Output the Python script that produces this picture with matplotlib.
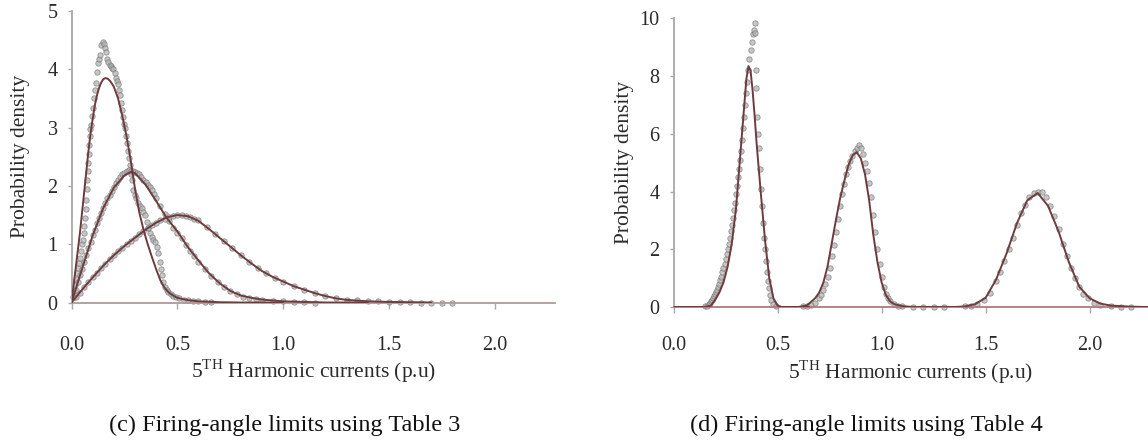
import matplotlib
matplotlib.use("Agg")
import matplotlib.pyplot as plt

plt.rcParams['font.family'] = ['Liberation Serif', 'DejaVu Serif']
plt.rcParams['mathtext.fontset'] = 'custom'
plt.rcParams['mathtext.rm'] = 'Liberation Serif'

# ---- panel (c): fitted curves ----
c1_x = [0, 0.01, 0.02, 0.03, 0.04, 0.05, 0.06, 0.07, 0.08, 0.09, 0.10, 0.11, 0.12, 0.13, 0.14,
        0.15, 0.16, 0.17, 0.18, 0.19, 0.20, 0.22, 0.24, 0.26, 0.28, 0.30, 0.32, 0.34, 0.36,
        0.38, 0.40, 0.42, 0.44, 0.46, 0.48, 0.50, 0.55, 0.60, 0.70, 0.80, 1.0]
c1_y = [0, 0.30, 0.60, 0.90, 1.20, 1.55, 1.90, 2.25, 2.60, 2.90, 3.15, 3.38, 3.55, 3.68, 3.77,
        3.83, 3.85, 3.84, 3.81, 3.76, 3.70, 3.50, 3.20, 2.85, 2.43, 1.95, 1.55, 1.25, 1.00,
        0.78, 0.57, 0.38, 0.25, 0.17, 0.12, 0.08, 0.04, 0.02, 0.005, 0, 0]

c2_x = [0, 0.05, 0.10, 0.15, 0.20, 0.25, 0.28, 0.30, 0.35, 0.40, 0.45, 0.50, 0.55, 0.60,
        0.65, 0.70, 0.75, 0.80, 0.85, 0.90, 1.0, 1.1, 1.2, 1.4]
c2_y = [0, 0.58, 1.15, 1.62, 1.97, 2.18, 2.24, 2.22, 2.02, 1.74, 1.45, 1.22, 0.95, 0.72,
        0.50, 0.33, 0.20, 0.12, 0.08, 0.05, 0.02, 0.01, 0, 0]

c3_x = [0, 0.05, 0.10, 0.15, 0.20, 0.25, 0.30, 0.35, 0.40, 0.45, 0.50, 0.55, 0.60, 0.65,
        0.70, 0.75, 0.80, 0.85, 0.90, 0.95, 1.00, 1.05, 1.10, 1.15, 1.20, 1.25, 1.30, 1.40,
        1.50, 1.60, 1.70]
c3_y = [0, 0.22, 0.43, 0.63, 0.81, 0.97, 1.11, 1.25, 1.37, 1.46, 1.50, 1.48, 1.40, 1.26,
        1.11, 0.96, 0.81, 0.67, 0.54, 0.44, 0.36, 0.28, 0.22, 0.16, 0.11, 0.07, 0.045, 0.02,
        0.01, 0.005, 0]

# ---- panel (c): measured points ----
d1_x = [0.005, 0.01, 0.015, 0.02, 0.025, 0.03, 0.035, 0.04, 0.045, 0.05, 0.053, 0.057, 0.06,
        0.064, 0.067, 0.069, 0.072, 0.075, 0.078, 0.080, 0.082, 0.083, 0.086, 0.088, 0.091,
        0.095, 0.10, 0.105, 0.11, 0.114, 0.122, 0.126, 0.131, 0.136, 0.141, 0.147, 0.152,
        0.158, 0.163, 0.168, 0.174, 0.18, 0.186, 0.192, 0.198, 0.205, 0.21, 0.216, 0.221,
        0.225, 0.229, 0.233, 0.237, 0.242, 0.247, 0.252, 0.256, 0.261, 0.265, 0.27, 0.275,
        0.28, 0.284, 0.292, 0.30, 0.306, 0.316, 0.324, 0.332, 0.34, 0.348, 0.355, 0.363,
        0.371, 0.379, 0.387, 0.395, 0.403, 0.411, 0.418, 0.422, 0.426, 0.434, 0.442, 0.45,
        0.458, 0.47, 0.481, 0.495, 0.51, 0.53, 0.55, 0.575, 0.60, 0.63, 0.66]
d1_y = [0.10, 0.20, 0.30, 0.40, 0.50, 0.60, 0.68, 0.76, 0.88, 1.00, 1.08, 1.20, 1.32,
        1.45, 1.60, 1.76, 1.95, 2.10, 2.25, 2.40, 2.55, 2.70, 2.85, 2.98, 3.05,
        3.20, 3.33, 3.50, 3.65, 3.76, 3.96, 4.10, 4.18, 4.25, 4.42, 4.47, 4.43,
        4.36, 4.30, 4.18, 4.13, 4.08, 4.05, 4.02, 4.00, 3.93, 3.85, 3.80, 3.75,
        3.65, 3.56, 3.42, 3.30, 3.18, 3.07, 2.99, 2.85, 2.73, 2.60, 2.47, 2.35,
        2.20, 2.10, 1.93, 1.85, 1.79, 1.70, 1.66, 1.62, 1.55, 1.50, 1.38, 1.27,
        1.20, 1.13, 1.08, 1.03, 0.96, 0.85, 0.70, 0.58, 0.47, 0.36, 0.27, 0.22,
        0.18, 0.15, 0.12, 0.09, 0.07, 0.05, 0.04, 0.03, 0.02, 0.01, 0.01]

d2_x = [0.01, 0.02, 0.03, 0.04, 0.05, 0.06, 0.07, 0.08, 0.09, 0.10, 0.11, 0.12, 0.13, 0.14,
        0.15, 0.16, 0.17, 0.18, 0.19, 0.20, 0.21, 0.22, 0.23, 0.24, 0.25, 0.26, 0.27, 0.28,
        0.29, 0.30, 0.31, 0.32, 0.33, 0.34, 0.35, 0.36, 0.37, 0.38, 0.39, 0.40, 0.42, 0.44,
        0.46, 0.48, 0.50, 0.52, 0.54, 0.56, 0.58, 0.60, 0.63, 0.66, 0.69, 0.72, 0.75, 0.78,
        0.81, 0.84, 0.87, 0.90, 0.95, 1.0, 1.05, 1.1, 1.15]
d2_y = [0.10, 0.22, 0.35, 0.47, 0.58, 0.70, 0.82, 0.93, 1.04, 1.15, 1.25, 1.36, 1.45, 1.53,
        1.62, 1.71, 1.79, 1.85, 1.92, 1.98, 2.05, 2.10, 2.16, 2.20, 2.22, 2.26, 2.27, 2.26,
        2.25, 2.24, 2.22, 2.20, 2.15, 2.10, 2.06, 2.02, 1.98, 1.93, 1.86, 1.80, 1.66, 1.52,
        1.40, 1.28, 1.20, 1.10, 0.98, 0.88, 0.80, 0.70, 0.58, 0.46, 0.35, 0.26, 0.19, 0.14,
        0.10, 0.08, 0.06, 0.05, 0.03, 0.02, 0.01, 0.01, 0.0]

d3_x = [0.02, 0.04, 0.06, 0.08, 0.10, 0.12, 0.14, 0.16, 0.18, 0.20, 0.22, 0.24, 0.26, 0.28,
        0.30, 0.32, 0.34, 0.36, 0.38, 0.40, 0.42, 0.44, 0.46, 0.48, 0.50, 0.52, 0.54, 0.56,
        0.58, 0.60, 0.64, 0.68, 0.72, 0.76, 0.80, 0.84, 0.88, 0.92, 0.96, 1.00, 1.05, 1.10,
        1.15, 1.20, 1.25, 1.30, 1.35, 1.40, 1.45, 1.50, 1.55, 1.60, 1.65, 1.70, 1.75, 1.80]
d3_y = [0.09, 0.17, 0.26, 0.35, 0.43, 0.51, 0.59, 0.66, 0.74, 0.81, 0.88, 0.94, 1.00, 1.06,
        1.11, 1.17, 1.22, 1.28, 1.33, 1.37, 1.41, 1.44, 1.47, 1.49, 1.50, 1.50, 1.49, 1.47,
        1.44, 1.41, 1.30, 1.18, 1.06, 0.93, 0.81, 0.70, 0.59, 0.50, 0.42, 0.35, 0.28, 0.22,
        0.16, 0.11, 0.08, 0.05, 0.04, 0.03, 0.02, 0.01, 0.01, 0.01, 0.0, 0.0, 0.0, 0.0]

# ---- panel (d): fitted curves ----
e1_x = [0, 0.15, 0.18, 0.20, 0.22, 0.24, 0.26, 0.28, 0.30, 0.32, 0.34, 0.35, 0.36, 0.37,
        0.38, 0.39, 0.40, 0.42, 0.44, 0.46, 0.48, 0.50, 0.52, 0.65]
e1_y = [0, 0, 0.05, 0.25, 0.50, 0.85, 1.40, 2.20, 3.40, 5.20, 7.00, 7.90, 8.35, 8.20,
        7.50, 6.60, 5.60, 3.90, 2.30, 1.00, 0.30, 0.05, 0, 0]

e2_x = [0.55, 0.60, 0.64, 0.68, 0.70, 0.72, 0.74, 0.76, 0.78, 0.80, 0.82, 0.84, 0.86, 0.88,
        0.90, 0.92, 0.94, 0.96, 0.98, 1.00, 1.02, 1.04, 1.06, 1.10, 1.15, 1.40]
e2_y = [0, 0, 0.05, 0.30, 0.50, 0.85, 1.40, 2.20, 3.00, 3.75, 4.35, 4.90, 5.25, 5.37,
        5.15, 4.60, 3.70, 2.50, 1.55, 0.85, 0.42, 0.20, 0.10, 0.03, 0, 0]

e3_x = [1.30, 1.35, 1.40, 1.45, 1.50, 1.55, 1.60, 1.65, 1.70, 1.75, 1.80, 1.85, 1.90,
        1.95, 2.00, 2.05, 2.10, 2.20, 2.28]
e3_y = [0, 0, 0.02, 0.10, 0.32, 0.95, 1.85, 2.90, 3.70, 3.95, 3.50, 2.62, 1.55,
        0.70, 0.30, 0.12, 0.05, 0.01, 0]

# ---- panel (d): measured points ----
f1_x = [0.15, 0.16, 0.17, 0.175, 0.18, 0.185, 0.19, 0.195, 0.20, 0.205, 0.21, 0.215, 0.22,
        0.225, 0.23, 0.235, 0.24, 0.245, 0.25, 0.255, 0.26, 0.265, 0.27, 0.275, 0.28, 0.285,
        0.29, 0.295, 0.30, 0.305, 0.31, 0.315, 0.32, 0.325, 0.33, 0.335, 0.34, 0.345, 0.35,
        0.355, 0.36, 0.365, 0.37, 0.375, 0.38, 0.385, 0.39, 0.392, 0.395, 0.398, 0.40, 0.405,
        0.41, 0.415, 0.42, 0.425, 0.43, 0.435, 0.44, 0.445, 0.45, 0.455, 0.46, 0.465, 0.47,
        0.48, 0.49]
f1_y = [0.02, 0.05, 0.10, 0.14, 0.20, 0.25, 0.30, 0.38, 0.45, 0.52, 0.60, 0.70, 0.80,
        0.92, 1.05, 1.20, 1.35, 1.50, 1.65, 1.82, 2.00, 2.20, 2.40, 2.62, 2.85, 3.10,
        3.35, 3.60, 3.90, 4.20, 4.50, 4.80, 5.10, 5.40, 5.80, 6.20, 6.60, 7.00, 7.40,
        7.80, 8.20, 8.60, 8.90, 9.20, 9.45, 9.60, 9.85, 9.50, 8.20, 7.60, 6.60, 6.00,
        5.50, 4.80, 4.10, 3.50, 2.90, 2.40, 2.00, 1.60, 1.20, 0.90, 0.65, 0.40, 0.25,
        0.12, 0.05]

f2_x = [0.62, 0.64, 0.66, 0.68, 0.70, 0.71, 0.72, 0.73, 0.74, 0.75, 0.76, 0.77, 0.78, 0.79,
        0.80, 0.81, 0.82, 0.83, 0.84, 0.85, 0.86, 0.87, 0.88, 0.89, 0.90, 0.91, 0.92, 0.93,
        0.94, 0.95, 0.96, 0.97, 0.98, 0.99, 1.00, 1.01, 1.02, 1.03, 1.04, 1.06, 1.08, 1.10,
        1.15, 1.20, 1.25, 1.30]
f2_y = [0.02, 0.04, 0.08, 0.15, 0.30, 0.42, 0.60, 0.80, 1.05, 1.35, 1.75, 2.15, 2.60, 3.05,
        3.50, 3.90, 4.25, 4.60, 4.85, 5.05, 5.25, 5.40, 5.50, 5.60, 5.50, 5.30, 5.00, 4.70,
        4.30, 3.80, 3.20, 2.60, 2.00, 1.50, 1.05, 0.70, 0.45, 0.30, 0.20, 0.10, 0.05, 0.03,
        0.01, 0.0, 0.0, 0.0]

f3_x = [1.40, 1.43, 1.46, 1.49, 1.52, 1.55, 1.57, 1.59, 1.61, 1.63, 1.65, 1.67, 1.69, 1.71,
        1.73, 1.75, 1.77, 1.79, 1.81, 1.83, 1.85, 1.87, 1.89, 1.91, 1.93, 1.95, 1.97, 1.99,
        2.02, 2.05, 2.10, 2.15, 2.20]
f3_y = [0.02, 0.05, 0.12, 0.25, 0.50, 0.90, 1.20, 1.60, 2.00, 2.40, 2.85, 3.25, 3.55, 3.80,
        3.95, 4.00, 3.98, 3.80, 3.50, 3.15, 2.70, 2.20, 1.75, 1.35, 1.00, 0.70, 0.45, 0.30,
        0.15, 0.08, 0.03, 0.01, 0.0]

x_ticks = [0.0, 0.5, 1.0, 1.5, 2.0]
x_ticklabels = ["0.0", "0.5", "1.0", "1.5", "2.0"]
xlabel = r"5$^{\rm TH}$ Harmonic currents (p.u)"
ylabel = "Probability density"
captions = ["(c) Firing-angle limits using Table 3", "(d) Firing-angle limits using Table 4"]

line_col = "#6e3b3e"
dot_face = "#b5b5b5"
dot_edge = "#777777"
axis_col = "#a9a9a9"
text_col = "#2a2a2a"

fig = plt.figure(figsize=(11.48, 4.40), dpi=100)
ax1 = fig.add_axes([0.0623, 0.3125, 0.4212, 0.6625])
ax2 = fig.add_axes([0.5867, 0.3023, 0.4133, 0.6557])


def style(ax, xmax, ymax, yticks, xpad, bottom_col, label_x):
    ax.set_xlim(0, xmax)
    ax.set_ylim(0, ymax)
    ax.set_xticks(x_ticks)
    ax.set_xticklabels(x_ticklabels)
    ax.set_yticks(yticks)
    for s in ["top", "right"]:
        ax.spines[s].set_visible(False)
    ax.spines["left"].set_color(axis_col)
    ax.spines["left"].set_linewidth(1.3)
    ax.spines["bottom"].set_color(bottom_col)
    ax.spines["bottom"].set_linewidth(1.3)
    ax.tick_params(axis="x", direction="out", length=4, width=1, color=axis_col,
                   labelsize=14.5, labelcolor=text_col, pad=xpad)
    ax.tick_params(axis="y", direction="out", length=3, width=1, color=axis_col,
                   labelsize=14.5, labelcolor=text_col, pad=7)
    ax.set_ylabel(ylabel, fontsize=15.5, color=text_col)
    ax.yaxis.set_label_coords(label_x, 0.5)
    ax.set_xlabel(xlabel, fontsize=15.5, color=text_col, labelpad=2)


for dx, dy in [(d1_x, d1_y), (d2_x, d2_y), (d3_x, d3_y)]:
    ax1.scatter(dx, dy, s=15, facecolor=dot_face, edgecolor=dot_edge, linewidths=0.6,
                alpha=0.75, zorder=2, clip_on=False)
for cx, cy in [(c1_x, c1_y), (c2_x, c2_y), (c3_x, c3_y)]:
    ax1.plot(cx, cy, color=line_col, lw=1.4, zorder=3)
style(ax1, 2.285, 5, [0, 1, 2, 3, 4, 5], 20, "#b09a9a", -0.085)

for dx, dy in [(f1_x, f1_y), (f2_x, f2_y), (f3_x, f3_y)]:
    ax2.scatter(dx, dy, s=15, facecolor=dot_face, edgecolor=dot_edge, linewidths=0.6,
                alpha=0.75, zorder=2, clip_on=False)
for cx, cy in [(e1_x, e1_y), (e2_x, e2_y), (e3_x, e3_y)]:
    ax2.plot(cx, cy, color=line_col, lw=1.4, zorder=3)
style(ax2, 2.28, 10, [0, 2, 4, 6, 8, 10], 17, "#b07a7a", -0.083)

fig.text(285 / 1148, 1 - 425 / 440, captions[0], ha="center", va="center",
         fontsize=17.5, color="#111111")
fig.text(866 / 1148, 1 - 425 / 440, captions[1], ha="center", va="center",
         fontsize=17.5, color="#111111")

fig.savefig("out.png", dpi=100)
